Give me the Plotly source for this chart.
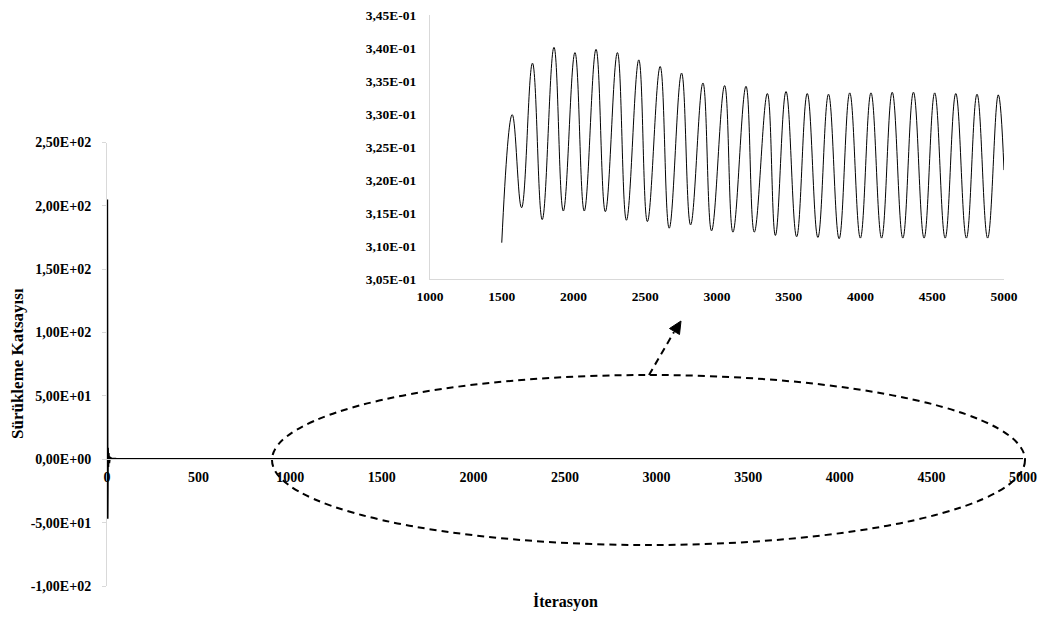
import plotly.graph_objects as go

# ---------------- data ----------------
# main chart: early transient (iteration, drag coefficient)
spike_iter = [1, 3, 5, 7, 9, 12, 16, 25, 50, 200, 600, 1000, 1400]
spike_cd = [205, -47, 9, -6, 5, -3, 1.5, 0.6, 0.35, 0.31, 0.31, 0.31, 0.31]

# inset: oscillation extrema between 1500 and 5000 iterations
inset_iter = [1500, 1573, 1638, 1714, 1782, 1864, 1929, 2010, 2075, 2157, 2222,
              2306, 2369, 2455, 2515, 2604, 2667, 2753, 2816, 2902, 2962, 3053,
              3111, 3202, 3260, 3351, 3407, 3481, 3555, 3629, 3703, 3777, 3851,
              3925, 3999, 4073, 4147, 4221, 4295, 4369, 4443, 4517, 4590, 4664,
              4738, 4812, 4886, 4960, 5000]
inset_cd = [0.3105, 0.3299, 0.3158, 0.3377, 0.3140, 0.3401, 0.3153, 0.3393, 0.3153,
            0.3398, 0.3152, 0.3393, 0.3139, 0.3382, 0.3137, 0.3372, 0.3127, 0.3362,
            0.3132, 0.3347, 0.3123, 0.3343, 0.3121, 0.3342, 0.3121, 0.3331, 0.3116,
            0.3334, 0.3114, 0.3331, 0.3113, 0.3330, 0.3111, 0.3332, 0.3112, 0.3332,
            0.3112, 0.3333, 0.3112, 0.3333, 0.3112, 0.3332, 0.3112, 0.3331, 0.3112,
            0.3330, 0.3112, 0.3329, 0.3215]

main_iter = spike_iter + inset_iter
main_cd = spike_cd + inset_cd

# ticks
main_x_ticks = [0, 500, 1000, 1500, 2000, 2500, 3000, 3500, 4000, 4500, 5000]
main_y_vals = [250, 200, 150, 100, 50, 0, -50, -100]
main_y_text = ["2,50E+02", "2,00E+02", "1,50E+02", "1,00E+02", "5,00E+01",
               "0,00E+00", "-5,00E+01", "-1,00E+02"]
inset_x_ticks = [1000, 1500, 2000, 2500, 3000, 3500, 4000, 4500, 5000]
inset_y_vals = [0.345, 0.340, 0.335, 0.330, 0.325, 0.320, 0.315, 0.310, 0.305]
inset_y_text = ["3,45E-01", "3,40E-01", "3,35E-01", "3,30E-01", "3,25E-01",
                "3,20E-01", "3,15E-01", "3,10E-01", "3,05E-01"]

x_title = "İterasyon"
y_title = "Sürükleme Katsayısı"

# ---------------- layout helpers ----------------
W, H = 1047, 619


def px(x):
    return x / W


def py(y):
    return 1 - y / H


def bold(items):
    return ["<b>%s</b>" % t for t in items]


FONT = "Liberation Serif"
tick_font = dict(family=FONT, size=14, color="#000000")
inset_font = dict(family=FONT, size=13.5, color="#000000")
AXIS_GREY = "#d9d9d9"

fig = go.Figure()

fig.add_trace(go.Scatter(x=main_iter, y=main_cd, mode="lines",
                         line=dict(color="#000000", width=2),
                         xaxis="x", yaxis="y", showlegend=False))

fig.add_trace(go.Scatter(x=inset_iter, y=inset_cd, mode="lines",
                         line=dict(color="#000000", width=1, shape="spline", smoothing=1.2),
                         xaxis="x2", yaxis="y2", showlegend=False))

main_y_dom = [py(586), py(142.5)]
zero_pos = main_y_dom[0] + (0 - (-100)) / 350 * (main_y_dom[1] - main_y_dom[0])

fig.update_layout(
    width=W, height=H, autosize=False, showlegend=False,
    margin=dict(l=0, r=0, t=0, b=0, pad=0, autoexpand=False),
    paper_bgcolor="white", plot_bgcolor="rgba(0,0,0,0)",
    font=dict(family=FONT, color="#000000"),
    xaxis=dict(domain=[px(107), px(1023)], range=[0, 5000], anchor="free",
               position=zero_pos, tickvals=main_x_ticks,
               ticktext=bold([str(v) for v in main_x_ticks]), automargin=False,
               showgrid=False, zeroline=False, showline=True, linecolor=AXIS_GREY,
               linewidth=1, ticks="", tickfont=tick_font, ticklabelstandoff=5),
    yaxis=dict(domain=main_y_dom, range=[-100, 250], anchor="x",
               tickvals=main_y_vals, ticktext=bold(main_y_text), automargin=False,
               showgrid=False, zeroline=False, showline=True, linecolor=AXIS_GREY,
               linewidth=1, ticks="outside", ticklen=4, tickcolor=AXIS_GREY,
               tickfont=tick_font, ticklabelstandoff=8),
    xaxis2=dict(domain=[px(430), px(1004)], range=[1000, 5000], anchor="y2",
                tickvals=inset_x_ticks, ticktext=bold([str(v) for v in inset_x_ticks]),
                automargin=False,
                showgrid=False, zeroline=False, showline=True, linecolor=AXIS_GREY,
                linewidth=1, ticks="", tickfont=inset_font, ticklabelstandoff=5),
    yaxis2=dict(domain=[py(279), py(15)], range=[0.305, 0.345], anchor="x2",
                tickvals=inset_y_vals, ticktext=bold(inset_y_text), automargin=False,
                showgrid=False, zeroline=False, showline=True, linecolor=AXIS_GREY,
                linewidth=1, ticks="", tickfont=inset_font, ticklabelstandoff=10),
)

# axis titles
fig.add_annotation(text="<b>%s</b>" % x_title, xref="paper", yref="paper",
                   x=px(565), y=py(601), xanchor="center", yanchor="middle",
                   showarrow=False,
                   font=dict(family=FONT, size=16, color="#000000"))
fig.add_annotation(text="<b>%s</b>" % y_title, xref="paper", yref="paper",
                   x=px(17), y=py(364), xanchor="center", yanchor="middle",
                   showarrow=False, textangle=-90,
                   font=dict(family=FONT, size=17, color="#000000"))

# dashed ellipse highlighting region
fig.add_shape(type="circle", xref="paper", yref="paper",
              x0=px(272), x1=px(1025), y0=py(545), y1=py(375),
              line=dict(color="#000000", width=2, dash="7px,5px"))

# dashed arrow pointing to inset
fig.add_shape(type="line", xref="paper", yref="paper",
              x0=px(649), y0=py(375), x1=px(674), y1=py(332),
              line=dict(color="#000000", width=2, dash="7px,5px"))
tip = (681, 321)
b1 = (679.5, 334.5)
b2 = (669.5, 328.5)
fig.add_shape(type="path", xref="paper", yref="paper",
              path="M %f,%f L %f,%f L %f,%f Z" % (px(tip[0]), py(tip[1]), px(b1[0]), py(b1[1]),
                                                  px(b2[0]), py(b2[1])),
              fillcolor="#000000", line=dict(color="#000000", width=1))

fig.write_html("out.html")
